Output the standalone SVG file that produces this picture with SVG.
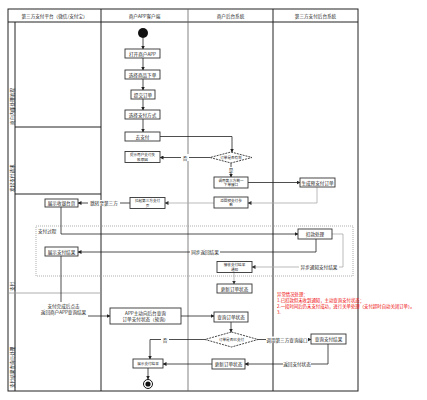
<svg xmlns="http://www.w3.org/2000/svg" width="427" height="400" viewBox="0 0 427 400">
<defs>
<style>
text{font-family:"Noto Sans CJK SC","Noto Sans",sans-serif;font-size:4.6px;fill:#222;}
.c{text-anchor:middle;dominant-baseline:central;}
.s{font-size:3.6px;}
.box{fill:#fff;stroke:#333;stroke-width:0.9;}
.lane{fill:none;stroke:#222;stroke-width:1;}
.sep{fill:none;stroke:#666;stroke-width:0.8;}
.ln{fill:none;stroke:#222;stroke-width:0.8;marker-end:url(#ah);}
.lg{fill:none;stroke:#aaa;stroke-width:0.8;marker-end:url(#ahg);}
.lbl{fill:#fff;}
.red{fill:#e00;font-size:4.4px;}
</style>
<marker id="ah" markerWidth="4" markerHeight="4" refX="3.5" refY="2" orient="auto" markerUnits="userSpaceOnUse"><path d="M0,0 L4,2 L0,4 z" fill="#222"/></marker>
<marker id="ahg" markerWidth="4" markerHeight="4" refX="3.5" refY="2" orient="auto" markerUnits="userSpaceOnUse"><path d="M0,0 L4,2 L0,4 z" fill="#333"/></marker>
</defs>
<rect width="427" height="400" fill="#fff"/>

<g id="lanes">
<rect class="lane" x="8" y="9" width="350" height="382"/>
<line class="lane" x1="8" y1="22" x2="358" y2="22"/>
<line class="lane" x1="15" y1="22" x2="15" y2="391"/>
<line class="lane" x1="101" y1="9" x2="101" y2="391"/>
<line class="sep" x1="188" y1="9" x2="188" y2="391"/>
<line class="lane" x1="273" y1="9" x2="273" y2="391"/>
<line class="lane" x1="15" y1="127" x2="101" y2="127"/>
<line class="lane" x1="15" y1="194" x2="101" y2="194"/>
<line x1="8" y1="293" x2="101" y2="293" stroke="#999" stroke-width="0.8"/>
<text class="c" x="54.5" y="16">第三方支付平台（微信/支付宝）</text>
<text class="c" x="144.5" y="16">商户APP客户端</text>
<text class="c" x="230.5" y="16">商户后台系统</text>
<text class="c" x="315.5" y="16">第三方支付后台系统</text>
<text transform="translate(11.5,125) rotate(-90)" dominant-baseline="central">商户内部处理流程</text>
<text transform="translate(11.5,192) rotate(-90)" dominant-baseline="central">发起支付请求</text>
<text transform="translate(11.5,291) rotate(-90)" dominant-baseline="central">支付</text>
<text transform="translate(11.5,388) rotate(-90)" dominant-baseline="central">支付结果查询与处理</text>
</g>

<g id="dashed-region">
<rect x="36" y="226" width="317" height="50" fill="none" stroke="#999" stroke-width="0.8" stroke-dasharray="1,1"/>
<text x="38" y="230.5" dominant-baseline="central">支付过程</text>
</g>

<g id="connectors">
<line class="ln" x1="143" y1="38" x2="143" y2="49"/>
<line class="ln" x1="143" y1="58" x2="143" y2="70"/>
<line class="ln" x1="143" y1="79" x2="143" y2="90"/>
<line class="ln" x1="143" y1="99" x2="143" y2="110"/>
<line class="ln" x1="143" y1="119" x2="143" y2="132"/>
<polyline class="ln" points="160,136.5 232,136.5 232,152"/>
<line class="ln" x1="210" y1="157.5" x2="160" y2="157.5"/>
<line class="ln" x1="231" y1="163" x2="231" y2="177"/>
<line class="ln" x1="248" y1="182.5" x2="300" y2="182.5"/>
<polyline class="lg" points="317,187 317,203 248,203"/>
<line class="lg" x1="214" y1="203" x2="165" y2="203"/>
<line class="ln" x1="130" y1="203" x2="78" y2="203"/>
<polyline class="ln" points="61,207 61,234 298,234"/>
<polyline class="ln" points="316,239 316,252 78,252"/>
<polyline class="lg" points="332,234 343,234 343,267 252,267"/>
<line class="lg" x1="234" y1="272" x2="234" y2="284"/>
<line x1="61" y1="256" x2="61" y2="302" stroke="#222" stroke-width="0.8"/>
<line class="ln" x1="88" y1="316" x2="110" y2="316"/>
<line class="ln" x1="181" y1="316" x2="214" y2="316"/>
<line class="ln" x1="231" y1="322" x2="231" y2="332"/>
<polyline class="ln" points="205,339.5 150,339.5 150,359"/>
<line class="ln" x1="258" y1="339.5" x2="311" y2="339.5"/>
<polyline class="ln" points="328,344 328,364 245,364"/>
<line class="ln" x1="212" y1="364" x2="163" y2="364"/>
<line class="ln" x1="148" y1="368" x2="148" y2="379"/>
<rect class="lbl" x="181" y="154" width="8" height="7"/>
<text class="c" x="185" y="157.5">否</text>
<rect class="lbl" x="227" y="167" width="8" height="6"/>
<text class="c" x="231" y="170">是</text>
<rect class="lbl" x="88" y="200" width="32" height="6"/>
<text class="c" x="104" y="203">跳转至第三方</text>
<rect class="lbl" x="190" y="249" width="30" height="6"/>
<text class="c" x="205" y="252">同步返回结果</text>
<rect class="lbl" x="299" y="264" width="40" height="6"/>
<text class="c" x="319" y="267">异步通知支付结果</text>
<rect class="lbl" x="161" y="336" width="8" height="7"/>
<text class="c" x="165" y="339.5">否</text>
<rect class="lbl" x="266" y="336.5" width="42" height="6"/>
<text class="c" x="287" y="339.5">调用第三方查询接口</text>
<rect class="lbl" x="283" y="361" width="28" height="6"/>
<text class="c" x="297" y="364">返回支付状态</text>
</g>

<g id="start"><circle cx="143" cy="33" r="5" fill="#111"/></g>
<g id="n1"><rect class="box" x="125" y="49" width="35" height="9"/><text class="c" x="142.5" y="53.5">打开商户APP</text></g>
<g id="n2"><rect class="box" x="125" y="70" width="35" height="9"/><text class="c" x="142.5" y="74.5">选择商品下单</text></g>
<g id="n3"><rect class="box" x="131" y="90" width="24" height="9"/><text class="c" x="143" y="94.5">提交订单</text></g>
<g id="n4"><rect class="box" x="125" y="110" width="35" height="9"/><text class="c" x="142.5" y="114.5">选择支付方式</text></g>
<g id="n5"><rect class="box" x="125" y="132" width="35" height="9"/><text class="c" x="142.5" y="136.5">去支付</text></g>
<g id="n6"><rect class="box" x="125" y="151.5" width="35" height="11"/><text class="c s" x="142.5" y="154.8">提示用户支付失</text><text class="c s" x="142.5" y="159.3">败原因</text></g>
<g id="d1"><polygon points="231,152 252,157.5 231,163 210,157.5" fill="#fff" stroke="#333" stroke-width="0.9" stroke-dasharray="2,1"/><text class="c s" x="231" y="157.5">订单是否有效</text></g>
<g id="n7"><rect class="box" x="214" y="177" width="34" height="11"/><text class="c s" x="231" y="180.2">调用第三方统一</text><text class="c s" x="231" y="184.7">下单接口</text></g>
<g id="n8"><rect class="box" x="300" y="178" width="35" height="9"/><text class="c" x="317.5" y="182.5">生成预支付订单</text></g>
<g id="n9"><rect class="box" x="214" y="197" width="34" height="11"/><text class="c s" x="231" y="200.2">返回预支付参</text><text class="c s" x="231" y="204.7">数</text></g>
<g id="n10"><rect class="box" x="130" y="197.5" width="35" height="11"/><text class="c s" x="147.5" y="200.7">拉起第三方支付</text><text class="c s" x="147.5" y="205.2">页</text></g>
<g id="n11"><rect class="box" x="45" y="199" width="33" height="8"/><text class="c" x="61.5" y="203">展示收银台页</text></g>
<g id="n12"><rect class="box" x="298" y="229" width="34" height="10"/><text class="c" x="315" y="234">扣款处理</text></g>
<g id="n13"><rect class="box" x="45" y="247" width="33" height="9"/><text class="c" x="61.5" y="251.5">展示支付结果</text></g>
<g id="n14"><rect class="box" x="217" y="261.5" width="35" height="11"/><text class="c s" x="234.5" y="264.7">接收支付结果</text><text class="c s" x="234.5" y="269.2">通知</text></g>
<g id="n15"><rect class="box" x="217" y="284" width="35" height="9"/><text class="c" x="234.5" y="288.5">更新订单状态</text></g>
<g id="t1"><text class="c" x="63.5" y="306">支付完成后点击</text><text class="c" x="63.5" y="312">返回商户APP查询结果</text></g>
<g id="n16"><rect class="box" x="110" y="308" width="71" height="16"/><text class="c" x="145.5" y="313">APP主动向后台查询</text><text class="c" x="145.5" y="319">订单支付状态（轮询）</text></g>
<g id="n17"><rect class="box" x="214" y="312" width="34" height="10"/><text class="c" x="231" y="317">查询订单状态</text></g>
<g id="d2"><polygon points="231.5,332 258,339.5 231.5,347 205,339.5" fill="#fff" stroke="#333" stroke-width="0.9" stroke-dasharray="2,1"/><text class="c s" x="231.5" y="339.5">订单是否已支付</text></g>
<g id="n18"><rect class="box" x="311" y="334" width="35" height="10"/><text class="c" x="328.5" y="339">查询支付结果</text></g>
<g id="n20"><rect class="box" x="212" y="359" width="33" height="10"/><text class="c" x="228.5" y="364">更新订单状态</text></g>
<g id="n19"><rect class="box" x="133" y="359" width="30" height="9"/><text class="c s" x="148" y="363.5">展示支付结果</text></g>
<g id="end"><circle cx="148" cy="384" r="4.5" fill="#fff" stroke="#111" stroke-width="1"/><circle cx="148" cy="384" r="2.6" fill="#111"/></g>
<g id="note">
<text class="red" x="277" y="296">异常情况处理：</text>
<text class="red" x="277" y="302">1.已扣款但未收到通知，主动查询支付状态；</text>
<text class="red" x="277" y="308">2.一段时间后仍未支付成功，进行关单处理（支付超时自动关闭订单）。</text>
<text class="red" x="277" y="314">3.</text>
</g>
</svg>
